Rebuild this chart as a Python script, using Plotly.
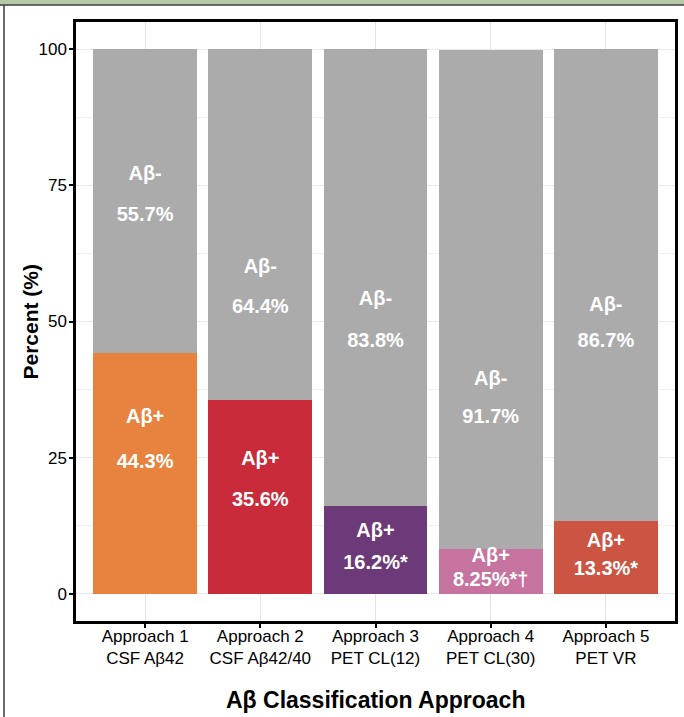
import plotly.graph_objects as go

# ---- data ----
categories = ["Approach 1<br>CSF Aβ42", "Approach 2<br>CSF Aβ42/40", "Approach 3<br>PET CL(12)",
              "Approach 4<br>PET CL(30)", "Approach 5<br>PET VR"]
pos_pct = [44.3, 35.6, 16.2, 8.25, 13.3]
neg_pct = [55.7, 64.4, 83.8, 91.7, 86.7]
pos_text = ["44.3%", "35.6%", "16.2%*", "8.25%*†", "13.3%*"]
neg_text = ["55.7%", "64.4%", "83.8%", "91.7%", "86.7%"]
pos_colors = ["#e8833f", "#c92b3b", "#6c3a78", "#c7739f", "#cc5443"]
neg_color = "#ababab"

# label heights (data units)
neg_head_y = [76.9, 59.8, 54.0, 39.3, 52.9]
neg_val_y = [69.4, 52.5, 46.2, 32.3, 46.2]
pos_head_y = [32.3, 24.6, 11.4, 6.7, 9.6]
pos_val_y = [24.0, 17.0, 5.5, 2.3, 4.3]

FONT = "Liberation Sans, Arial, sans-serif"

fig = go.Figure()
fig.add_trace(go.Bar(x=categories, y=pos_pct, marker=dict(color=pos_colors, line=dict(width=0)),
                     width=0.9, hoverinfo="skip", showlegend=False))
fig.add_trace(go.Bar(x=categories, y=neg_pct, marker=dict(color=neg_color, line=dict(width=0)),
                     width=0.9, hoverinfo="skip", showlegend=False))

lab_font = dict(family=FONT, size=20, color="white", weight="bold")
for ys, txt in [(neg_head_y, ["Aβ-"] * 5), (neg_val_y, neg_text),
                (pos_head_y, ["Aβ+"] * 5), (pos_val_y, pos_text)]:
    fig.add_trace(go.Scatter(x=categories, y=ys, mode="text", text=txt, textfont=lab_font,
                             textposition="middle center", hoverinfo="skip", showlegend=False,
                             cliponaxis=False))

W, H = 684, 717
L, R, T, B = 76, 9, 22, 96
pw, ph = W - L - R, H - T - B

def px(x):
    return (x - L) / pw

def py(y):
    return (H - B - y) / ph

shapes = [
    dict(type="rect", xref="paper", yref="paper", x0=px(0), x1=px(W), y0=py(0), y1=py(4.5),
         fillcolor="#b4c9a6", line=dict(width=0), layer="above"),
    dict(type="line", xref="paper", yref="paper", x0=px(0), x1=px(W), y0=py(5), y1=py(5),
         line=dict(color="#3a3a3a", width=1.5), layer="above"),
    dict(type="line", xref="paper", yref="paper", x0=px(4), x1=px(4), y0=py(5), y1=py(H),
         line=dict(color="#3a3a3a", width=1.5), layer="above"),
]

annotations = [
    dict(text="Aβ Classification Approach", xref="paper", yref="paper", x=0.5, y=py(700),
         xanchor="center", yanchor="middle", showarrow=False,
         font=dict(family=FONT, size=23, color="black", weight="bold")),
    dict(text="Percent (%)", xref="paper", yref="paper", x=px(30), y=0.5, textangle=-90,
         xanchor="center", yanchor="middle", showarrow=False,
         font=dict(family=FONT, size=21, color="black", weight="bold")),
]

fig.update_layout(
    width=W, height=H,
    margin=dict(l=L, r=R, t=T, b=B, pad=0),
    paper_bgcolor="white", plot_bgcolor="white",
    barmode="stack", bargap=0.1,
    font=dict(family=FONT, color="black"),
    shapes=shapes, annotations=annotations,
    xaxis=dict(
        type="category", range=[-0.6, 4.6], automargin=False,
        showline=True, mirror=True, linecolor="black", linewidth=2.5,
        ticks="outside", ticklen=4, tickwidth=1.5, tickcolor="black",
        ticklabelstandoff=-6,
        showgrid=True, gridcolor="#e3e3e3", gridwidth=1.2,
        tickfont=dict(family=FONT, size=17, color="black"),
    ),
    yaxis=dict(
        range=[-5, 105], tickvals=[0, 25, 50, 75, 100], automargin=False,
        showline=True, mirror=True, linecolor="black", linewidth=2.5,
        ticks="outside", ticklen=4, tickwidth=1.5, tickcolor="black",
        ticklabelstandoff=-1,
        showgrid=True, gridcolor="#e8e8e8", gridwidth=1.2, zeroline=False,
        minor=dict(dtick=12.5, tick0=0, showgrid=True, gridcolor="#f0f0f0", gridwidth=0.8, ticks=""),
        tickfont=dict(family=FONT, size=17, color="black"),
    ),
)

fig.write_html("out.html", config={"displayModeBar": False},
               post_script="document.body.style.margin='0';document.body.style.overflow='hidden';")
